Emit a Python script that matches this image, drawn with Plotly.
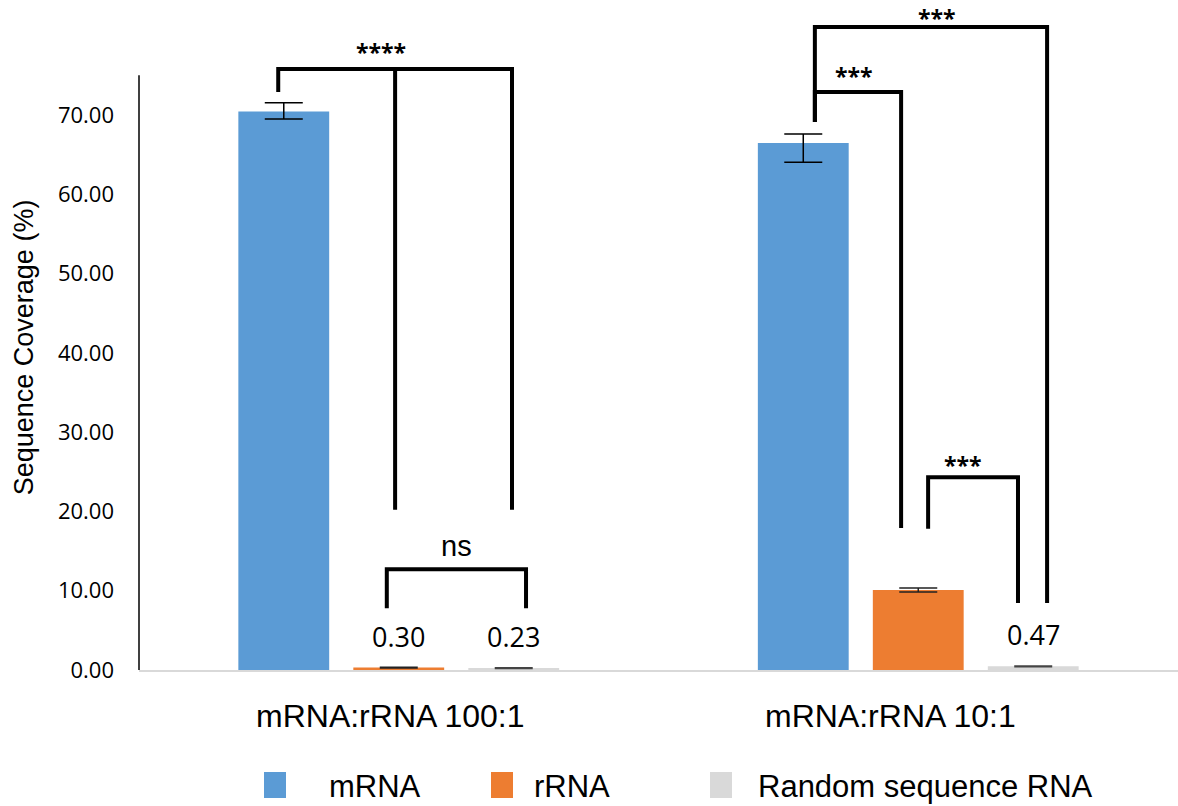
import plotly.graph_objects as go

categories = ["mRNA:rRNA 100:1", "mRNA:rRNA 10:1"]
series_names = ["mRNA", "rRNA", "Random sequence RNA"]
colors = ["#5b9bd5", "#ed7d31", "#d9d9d9"]

mrna_vals = [70.45, 66.45]
mrna_err_plus = [1.1, 1.15]
mrna_err_minus = [0.95, 2.4]
rrna_vals = [0.30, 10.10]
rrna_err = [0.05, 0.25]
random_vals = [0.23, 0.47]
random_err = [0.04, 0.05]

y_ticks = [0, 10, 20, 30, 40, 50, 60, 70]

# significance brackets: (x0, x1, y_top, foot0_bottom, foot1_bottom, label, label_x, label_y)
# x given in category units (0 = first group centre, 1 = second), y in data units
brackets = [
    (-0.232, 0.218, 75.8, 72.9, 20.2, "****", -0.034, 77.9),
    (-0.023, 0.245, 12.7, 7.8, 7.8, "ns", 0.112, 15.6),
    (0.801, 1.248, 81.1, 69.1, 8.45, "***", 1.036, 82.2),
    (0.801, 0.967, 72.9, 69.1, 17.9, "***", 0.876, 74.9),
    (1.019, 1.192, 24.3, 17.8, 8.45, "***", 1.086, 25.9),
]
extra_legs = [(-0.007, 75.8, 20.2)]  # middle leg of the **** bracket

x_pos = [0, 1]
fig = go.Figure()
series_vals = [mrna_vals, rrna_vals, random_vals]
fig.add_trace(go.Bar(
    name=series_names[0], x=x_pos, y=mrna_vals, marker_color=colors[0],
    marker_line_width=0,
    error_y=dict(type="data", symmetric=False, array=mrna_err_plus,
                 arrayminus=mrna_err_minus, color="black", thickness=1.5, width=19)))
fig.add_trace(go.Bar(
    name=series_names[1], x=x_pos, y=rrna_vals, marker_color=colors[1],
    marker_line_width=0,
    error_y=dict(type="data", array=rrna_err, color="#222222", thickness=1.5, width=19)))
fig.add_trace(go.Bar(
    name=series_names[2], x=x_pos, y=random_vals, marker_color=colors[2],
    marker_line_width=0,
    error_y=dict(type="data", array=random_err, color="#444444", thickness=1.5, width=19)))

bargap = 0.336
bargroupgap = 0.21
slot = (1 - bargap) / 3.0

shapes = []
annotations = []
line_style = dict(color="black", width=4)
for x0, x1, yt, f0, f1, lab, lx, ly in brackets:
    path = f"M {x0},{f0} L {x0},{yt} L {x1},{yt} L {x1},{f1}"
    shapes.append(dict(type="path", path=path, xref="x", yref="y",
                       line=line_style, layer="above"))
    is_star = "*" in lab
    annotations.append(dict(x=lx, y=ly, xref="x", yref="y",
                            text=f"<b>{lab}</b>" if is_star else lab, showarrow=False,
                            font=dict(family="Open Sans" if is_star else "Liberation Sans",
                                      size=23 if is_star else 29, color="black"),
                            yanchor="middle"))
for xl, yt, yb in extra_legs:
    shapes.append(dict(type="line", x0=xl, x1=xl, y0=yb, y1=yt, xref="x", yref="y",
                       line=line_style, layer="above"))

# value labels for the small bars
for si, vals in enumerate(series_vals):
    for ci, v in enumerate(vals):
        if v < 1:
            xc = x_pos[ci] + (si - 1) * slot
            annotations.append(dict(x=xc, y=v, xref="x", yref="y", text=f"{v:.2f}",
                                    showarrow=False, yanchor="bottom", yshift=11,
                                    font=dict(family="Open Sans", size=27, color="black")))

# category labels (drawn as annotations to match their placement)
cat_shift = [-8, -28]
for xc, lab, sh in zip(x_pos, categories, cat_shift):
    annotations.append(dict(x=xc, y=0, xref="x", yref="y", text=lab, showarrow=False,
                            yanchor="middle", yshift=-46, xshift=sh,
                            font=dict(family="Liberation Sans", size=32, color="black")))

# y axis line (only up to 75)
shapes.append(dict(type="line", xref="paper", yref="y", x0=0, x1=0, y0=0, y1=75,
                   line=dict(color="black", width=1.5)))

# y axis title
annotations.append(dict(xref="paper", yref="y", x=0, y=40.7, xshift=-132,
                        text="Sequence Coverage (%)", textangle=-90, showarrow=False,
                        font=dict(family="Liberation Sans", size=27, color="black")))

# manual legend (paper coords; plot area is 1039 x 670 px)
pw, ph = 1039.0, 670.0
legend_items = [(264, 327), (491, 532), (710, 756)]
for (mx, tx), name, col in zip(legend_items, series_names, colors):
    shapes.append(dict(type="rect", xref="paper", yref="paper",
                       x0=(mx - 139) / pw, x1=(mx + 22 - 139) / pw,
                       y0=(670 - 798) / ph, y1=(670 - 772) / ph,
                       fillcolor=col, line=dict(width=0)))
    annotations.append(dict(xref="paper", yref="paper", x=(tx - 139) / pw,
                            y=(670 - 786) / ph, text=name, showarrow=False,
                            xanchor="left", yanchor="middle",
                            font=dict(family="Liberation Sans", size=31, color="black")))

fig.update_layout(
    width=1178, height=806,
    margin=dict(l=139, r=0, t=0, b=136),
    barmode="group", bargap=bargap, bargroupgap=bargroupgap,
    plot_bgcolor="white", paper_bgcolor="white",
    showlegend=False,
    shapes=shapes, annotations=annotations,
    xaxis=dict(range=[-0.5, 1.5], tickvals=x_pos, ticktext=["", ""],
               showgrid=False, zeroline=False, showline=True, linecolor="#d9d9d9",
               linewidth=2, ticks=""),
    yaxis=dict(range=[0, 84.5], tickvals=y_ticks,
               ticktext=[f"{v:.2f}" for v in y_ticks],
               showgrid=False, zeroline=False, showline=False, ticks="",
               ticklabelstandoff=24,
               tickfont=dict(family="Open Sans", size=22, color="black")),
)

fig.write_html("out.html", config={"displayModeBar": False},
               post_script="document.body.style.margin='0px';document.body.style.overflow='hidden';")
